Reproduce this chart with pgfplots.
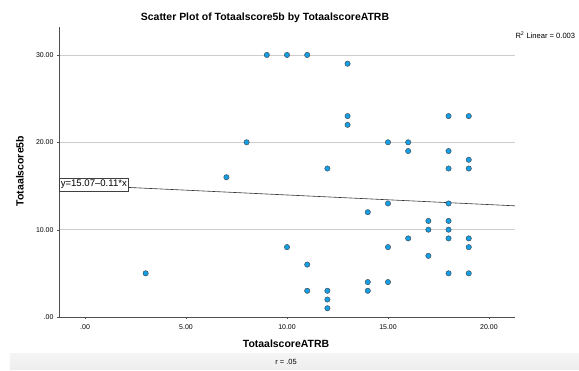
\documentclass[border=0pt]{standalone}
\usepackage{pgfplots}
\pgfplotsset{compat=1.18}
\usepackage{fontspec}
\setmainfont{Liberation Sans}
\definecolor{ptfill}{RGB}{22,158,228}
\definecolor{gridgray}{RGB}{205,205,205}
\definecolor{axgray}{RGB}{80,80,80}
\definecolor{footgray}{RGB}{238,238,238}
\begin{document}
\begin{tikzpicture}[x=1bp,y=1bp]
\clip (-59,-53) rectangle (520,317);
\fill[white] (-59,-53) rectangle (520,317);
% footer band
\shade[top color=footgray!60, bottom color=footgray] (-49,-52) rectangle (520,-36);
\node[font=\fontsize{7.5}{9}\selectfont] at (227,-44.5) {r = .05};
\begin{axis}[
  at={(0,0)}, anchor=south west,
  scale only axis, width=456bp, height=290bp,
  xmin=-1.29, xmax=21.29, ymin=0, ymax=33.2,
  axis lines*=left,
  axis line style={axgray, line width=0.8pt},
  xtick={0,5,10,15,20}, xticklabels={.00,5.00,10.00,15.00,20.00},
  ytick={0,10,20,30}, yticklabels={.00,10.00,20.00,30.00},
  tick align=outside, major tick length=2bp,
  tick style={axgray},
  every tick label/.style={font=\fontsize{7}{8}\selectfont, text=black},
  xticklabel style={yshift=-2bp},
  ymajorgrids, grid style={gridgray, line width=0.7pt},
  clip=false,
]
% fit line y = 15.07 - 0.11 x over the axis range
\addplot[black!80, line width=0.6pt] coordinates {(-1.29,15.212) (21.29,12.728)};
\addplot[only marks, mark=*, mark size=2.7pt,
  mark options={fill=ptfill, draw=black!75, line width=0.4pt}]
  table {
x y
3 5
7 16
8 20
9 30
10 30
10 8
11 30
11 6
11 3
12 17
12 3
12 2
12 1
13 29
13 23
13 22
14 12
14 4
14 3
15 20
15 13
15 8
15 4
16 20
16 19
16 9
17 11
17 10
17 7
18 23
18 19
18 17
18 13
18 11
18 10
18 9
18 5
19 23
19 18
19 17
19 9
19 8
19 5
};
\node[draw=black!75, fill=white, line width=0.6pt, anchor=west, inner sep=1.5bp,
  minimum height=13bp, font=\fontsize{9.6}{10}\selectfont]
  at (axis cs:-1.29,15.18) {y=15.07–0.11*x};
\end{axis}
\node[font=\bfseries\fontsize{10.5}{12}\selectfont] at (206,299) {Scatter Plot of Totaalscore5b by TotaalscoreATRB};
\node[font=\fontsize{7.6}{9}\selectfont, anchor=west] at (453,282) {R\textsuperscript{2} Linear = 0.003};
\node[font=\bfseries\fontsize{10.5}{12}\selectfont] at (227,-27) {TotaalscoreATRB};
\node[font=\bfseries\fontsize{10.5}{12}\selectfont, rotate=90] at (-39,146) {Totaalscore5b};
\end{tikzpicture}
\end{document}
